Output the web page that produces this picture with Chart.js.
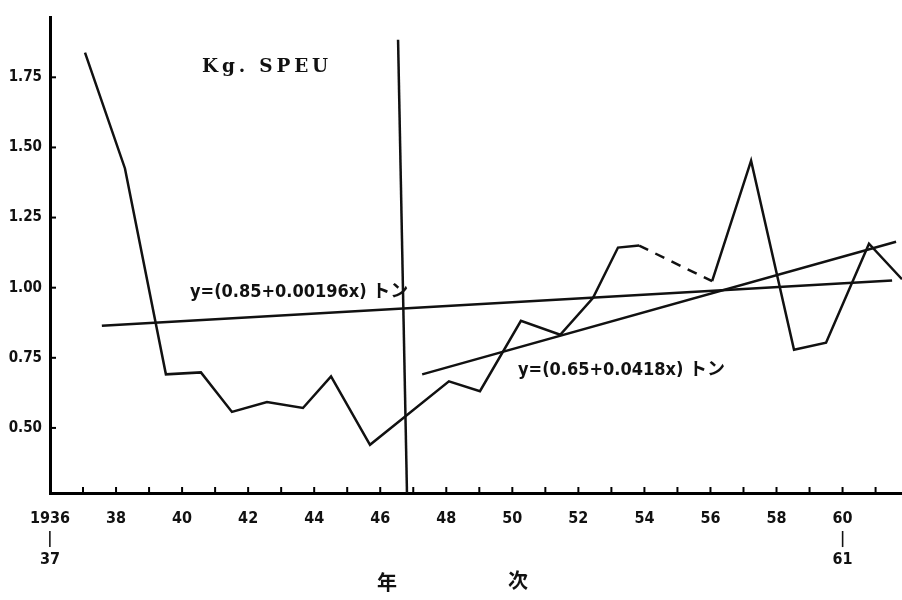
<!DOCTYPE html>
<html><head><meta charset="utf-8">
<script src="https://cdn.jsdelivr.net/npm/chart.js@4/dist/chart.umd.min.js"></script>
<style>html,body{margin:0;padding:0;background:#fff}</style>
</head><body>
<canvas id="c" width="902" height="600"></canvas>
<script>
// Data (x = position on the year axis, y = Kg)
const years  = [1937.06,1938.27,1939.51,1940.57,1941.51,1942.57,1943.66,1944.51,1945.69,1948.08,1949.02,1950.26,1951.45,1952.44,1953.20,1953.84,1956.05,1957.23,1958.53,1959.50,1960.80,1961.80];
const values = [1.838,1.425,0.691,0.698,0.557,0.592,0.571,0.684,0.440,0.666,0.631,0.882,0.832,0.963,1.143,1.150,1.023,1.453,0.779,0.804,1.157,1.030];
const dashedSegmentStart = 15;
const trendAX = [1937.57, 1961.50];
const trendAY = [0.864, 1.026];
const trendBX = [1947.27, 1961.62];
const trendBY = [0.691, 1.164];
const dividerX = [1946.54, 1946.81];
const dividerY = [1.884, 0.268];
const yTicks = [0.50, 0.75, 1.00, 1.25, 1.50, 1.75];
const xTicks = [1936,1938,1940,1942,1944,1946,1948,1950,1952,1954,1956,1958,1960];
const xTickLabels = [['1936','|','37'],'38','40','42','44','46','48','50','52','54','56','58',['60','|','61']];
const minorYears = [1937,1938,1939,1940,1941,1942,1943,1944,1945,1946,1947,1948,1949,1950,1951,1952,1953,1954,1955,1956,1957,1958,1959,1960,1961];
const unitLabel = 'Kg. SPEU';
const eqA = 'y=(0.85+0.00196x) トン';
const eqB = 'y=(0.65+0.0418x) トン';
const axisTitle = ['年', '次'];

const pts = (xs, ys) => xs.map((x, i) => ({x, y: ys[i]}));
const FAM = "'Liberation Sans Narrow','DejaVu Sans Condensed','DejaVu Sans','Noto Sans CJK JP',sans-serif";

const decor = {
  id: 'decor',
  afterDraw(chart) {
    const {ctx, chartArea, scales} = chart;
    const xs = scales.x, ys = scales.y;
    ctx.save();
    ctx.strokeStyle = '#000';
    ctx.lineWidth = 2;
    // y ticks (inside)
    yTicks.forEach(v => {
      const py = ys.getPixelForValue(v);
      ctx.beginPath(); ctx.moveTo(chartArea.left, py); ctx.lineTo(chartArea.left + 6, py); ctx.stroke();
    });
    // x ticks (inside)
    minorYears.forEach(yr => {
      const px = xs.getPixelForValue(yr);
      ctx.beginPath(); ctx.moveTo(px, chartArea.bottom); ctx.lineTo(px, chartArea.bottom - 6); ctx.stroke();
    });
    ctx.fillStyle = '#111';
    ctx.textBaseline = 'middle';
    ctx.textAlign = 'left';
    ctx.font = "bold 19px 'DejaVu Serif','Liberation Serif',serif";
    ctx.letterSpacing = '4px';
    ctx.fillText(unitLabel, 202, 67, 130);
    ctx.letterSpacing = '0px';
    ctx.font = "bold 18px " + FAM;
    ctx.fillText(eqA, 190, 292, 230);
    ctx.fillText(eqB, 518, 370, 219);
    ctx.textAlign = 'center';
    ctx.font = "bold 20px 'Noto Sans CJK JP',sans-serif";
    ctx.fillText(axisTitle[0], 387, 582);
    ctx.fillText(axisTitle[1], 518, 580);
    ctx.restore();
  }
};

const lineStyle = {borderColor: '#111', borderWidth: 2.5, pointRadius: 0, tension: 0, fill: false};

new Chart(document.getElementById('c'), {
  type: 'line',
  data: {
    datasets: [
      {...lineStyle, data: pts(years, values),
        segment: {borderDash: c => c.p0DataIndex === dashedSegmentStart ? [10, 8] : undefined}},
      {...lineStyle, data: pts(trendAX, trendAY)},
      {...lineStyle, data: pts(trendBX, trendBY)},
      {...lineStyle, data: pts(dividerX, dividerY)}
    ]
  },
  options: {
    responsive: false,
    animation: false,
    devicePixelRatio: 1,
    layout: {padding: {top: 12, left: 0, right: 0, bottom: 0}},
    plugins: {legend: {display: false}, tooltip: {enabled: false}},
    scales: {
      x: {
        type: 'linear', min: 1936, max: 1961.8,
        grid: {display: false, drawTicks: false},
        border: {display: true, width: 3, color: '#000'},
        afterBuildTicks: s => { s.ticks = xTicks.map(v => ({value: v})); },
        afterFit: s => { s.height = 107; },
        ticks: {
          autoSkip: false, maxRotation: 0, padding: 15, color: '#111',
          font: {family: FAM, size: 16, weight: 'bold', lineHeight: 1.3},
          callback: (v, i) => xTickLabels[i]
        }
      },
      y: {
        type: 'linear', min: 0.268, max: 1.965,
        grid: {display: false, drawTicks: false},
        border: {display: true, width: 3, color: '#000'},
        afterBuildTicks: s => { s.ticks = yTicks.map(v => ({value: v})); },
        afterFit: s => { s.width = 50; },
        ticks: {
          padding: 8, color: '#111',
          font: {family: FAM, size: 15, weight: 'bold'},
          callback: v => Number(v).toFixed(2)
        }
      }
    }
  },
  plugins: [decor]
});
</script>
</body></html>
